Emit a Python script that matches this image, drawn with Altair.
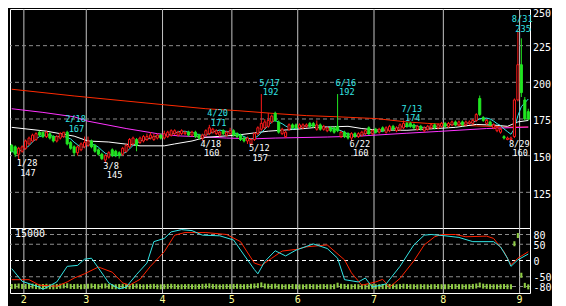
import altair as alt
import pandas as pd

# ---------------- data ----------------
dates = ["1/26","1/27","1/28","1/31",
 "2/1","2/2","2/3","2/4","2/7","2/8","2/9","2/10","2/14","2/15","2/16","2/17","2/18","2/21","2/22","2/24","2/25","2/28",
 "3/1","3/2","3/3","3/4","3/7","3/8","3/9","3/10","3/11","3/14","3/15","3/16","3/17","3/18","3/22","3/23","3/24","3/25","3/28","3/29","3/30","3/31",
 "4/1","4/4","4/5","4/6","4/7","4/8","4/11","4/12","4/13","4/14","4/15","4/18","4/19","4/20","4/21","4/22","4/25","4/26","4/27","4/28",
 "5/2","5/6","5/9","5/10","5/11","5/12","5/13","5/16","5/17","5/18","5/19","5/20","5/23","5/24","5/25","5/26","5/27","5/30","5/31",
 "6/1","6/2","6/3","6/6","6/7","6/8","6/9","6/10","6/13","6/14","6/15","6/16","6/17","6/20","6/21","6/22","6/23","6/24","6/27","6/28","6/29","6/30",
 "7/1","7/4","7/5","7/6","7/7","7/8","7/11","7/12","7/13","7/14","7/15","7/19","7/20","7/21","7/22","7/25","7/26","7/27","7/28","7/29",
 "8/1","8/2","8/3","8/4","8/5","8/8","8/9","8/10","8/12","8/15","8/16","8/17","8/18","8/19","8/22","8/23","8/24","8/25","8/26","8/29","8/30","8/31",
 "9/1","9/2","9/5"]

opens = [157,156,151,153,155,158,160,161,166,166,163,165,163,160,162,163,166,159,156,152,
 154,156,157,160,157,154,151,147,149,154,153,152,151,153,156,158,161,159,160,161,
 162,161,162,164,162,163,164,165,164,165,165,166,164,166,164,162,164,165,166,165,
 164,167,164,165,167,165,164,162,160,158,161,165,168,169,170,173,179,173,165,163,
 168,171,171,169,169,170,172,172,168,171,168,167,169,169,170,163,166,165,162,165,
 163,164,165,169,165,168,166,169,166,167,170,167,168,169,172,172,171,168,170,167,
 168,169,171,169,170,172,170,171,173,171,173,171,172,172,174,189,176,172,173,169,
 167,166,163,161,161,163,188,212,188,180]
highs = [158,157,156,157,161,163,165,166,167,166,167,166,164,164,166,166,167,160,157,157,
 159,163,163,161,158,155,152,151,153,155,154,153,156,158,162,163,162,163,164,165,
 166,165,165,165,167,167,168,168,167,168,167,167,167,167,165,165,168,171,169,168,
 167,168,167,169,168,166,165,163,163,162,166,170,192,175,179,178,180,174,169,167,
 172,172,172,172,172,172,173,173,174,172,171,170,170,170,192,167,167,166,166,166,
 166,167,168,170,168,169,169,170,170,171,171,170,172,174,173,173,172,171,171,170,
 171,172,172,172,173,173,173,174,174,174,174,174,174,175,179,191,177,175,174,172,
 170,169,164,163,163,189,235,230,190,182]
lows = [152,149,147,152,154,157,159,160,163,162,162,161,159,159,161,162,157,154,150,150,
 153,155,156,155,152,150,147,145,148,149,149,148,150,152,155,157,153,158,159,160,
 161,160,161,161,161,162,163,164,163,164,164,163,163,162,161,160,163,164,165,164,
 163,164,163,164,163,162,160,159,158,157,160,164,167,168,169,172,173,165,164,162,
 167,168,168,168,168,169,169,169,167,167,167,166,166,165,166,162,162,161,160,162,
 162,163,164,164,164,165,165,166,165,166,167,166,167,168,169,169,168,167,167,166,
 167,168,168,168,169,169,169,170,170,170,170,170,171,171,173,177,173,171,170,168,
 166,165,161,160.5,160,162,187,190,174,174]
closes = [153,151,155,156,160,162,164,165,164,163,166,162,160,163,165,166,158,155,152,156,
 158,159,160,156,153,151,148,150,152,150,150,150,155,157,161,162,157,162,163,163,
 164,163,164,162,165,166,167,167,166,167,166,164,166,163,162,164,167,169,168,167,
 166,165,166,167,164,163,161,160,162,161,165,169,172,173,174,177,174,166,168,166,
 171,169,169,171,171,171,170,170,171,168,170,169,167,166,167,166,163,162,165,163,
 165,166,167,165,167,166,168,167,169,170,168,169,171,172,170,170,169,170,168,169,
 170,171,169,171,172,170,172,173,171,173,171,173,173,174,178,178,174,174,171,171,
 169,168,162,162,162,188,212,193,175,175]
volumes = [450,520,600,480,420,500,560,430,380,460,520,400,350,470,540,600,650,480,420,500,
 380,440,520,600,480,430,560,620,500,420,380,460,520,480,400,450,560,430,380,420,
 470,500,400,360,420,480,520,450,380,400,430,470,410,380,440,500,560,640,480,420,
 380,400,450,420,480,500,440,400,460,520,600,700,950,600,520,480,560,430,400,380,
 420,450,400,380,360,420,450,400,380,420,440,400,380,420,850,520,460,400,380,420,
 400,380,360,400,420,380,400,440,420,460,480,400,440,520,460,420,400,380,420,400,
 380,400,420,440,400,380,420,440,460,420,400,380,420,480,600,900,560,480,420,400,
 380,420,460,400,380,13500,16000,3900,800,350]

# moving averages (day index, price)
ma_w_idx = [0,10,18,22,28,37,44,47,52,56,65,74,82,88,97,101,105,114,128,134,140,143,146,149]
ma_w_val = [169.3,166.7,163.3,160,159.3,156.7,156.7,158,160,162.5,164,166.7,168,169.3,170,168.5,167.5,167.3,169.3,171.3,170.7,170,173,174]
ma_m_idx = [0,9,18,22,33,42,48,56,62,70,76,91,100,114,123,137,149]
ma_m_val = [182,179.5,176.5,173.5,168.5,165,163.5,162.7,162,161.5,162,162.7,163.3,165.3,166.5,168.5,169.5]
ma_r_idx = [0,18,44,56,65,76,85,94,105,114,120,134,143,149]
ma_r_val = [195.3,190.7,184.7,182,180.7,178.7,177.3,176.5,175.3,173,172,170.3,169.5,169.5]

# oscillators (lower panel)
osc_c_idx = [0,3,8,9,13,16,19,21,23,25,28,31,33,36,39,41,44,46,49,52,55,60,64,67,70,71,73,76,79,82,87,91,94,96,100,102,104,108,112,116,119,121,125,129,133,139,141,143,144,146,149]
osc_c_val = [-25,-64,-82,-89,-66,-18,-15,4,7,-23,-69,-87,-82,-43,-8,58,68,88,95,92,78,76,63,17,-28,-41,-3,30,14,32,51,37,7,-59,-66,-54,-82,-72,-18,48,78,80,76,71,58,58,42,7,-18,2,20]
osc_r_idx = [0,5,8,13,16,18,21,25,29,32,34,37,40,44,47,50,56,62,66,70,72,75,78,82,85,91,96,98,101,105,107,109,112,116,119,122,124,128,131,137,139,142,144,146,149]
osc_r_val = [-59,-59,-76,-79,-66,-54,-41,-20,-36,-69,-76,-58,-18,27,78,86,86,80,58,-8,-15,7,29,34,42,48,2,-38,-76,-66,-58,-82,-55,-1,48,73,80,80,73,75,68,27,-13,7,27]

# annotations (day index of marked highs / lows)
hi_idx = [16,57,72,94,113]
hi_last_idx = [146]
lo_idx = [2,27,55,69,98,144]

month_idx = [4,22,44,64,83,105,125,147]
month_lbl = ["2","3","4","5","6","7","8","9"]

top_ticks = [125,150,175,200,225]
top_max = [250]
top_grid = [125,150,175,200,225]
bot_ticks = [80,50,0,-50,-80]
bot_grid = [80,50,-50,-80]

# ---------------- styles ----------------
W, HT, HB = 520, 219, 65
RED, GREEN, CYAN, MAG = "#ff1a1a", "#22e622", "#33e6e6", "#ff33ff"
MARED = "#ff2a00"
VOLC = "#8fcc44"
FONT = "DejaVu Sans Mono"

xs = alt.Scale(domain=[0, 150], nice=False, zero=False)
yts = alt.Scale(domain=[100.67, 250], nice=False, zero=False)
ybs = alt.Scale(domain=[-100, 100], nice=False, zero=False)
yvs = alt.Scale(domain=[0, 16780], nice=False, zero=False)

def X(f):
    return alt.X(f, type="quantitative", scale=xs, axis=None)

def YT(f):
    return alt.Y(f, type="quantitative", scale=yts, axis=None)

df = pd.DataFrame({"idx": list(range(len(dates))), "d": dates, "o": opens, "h": highs,
                   "l": lows, "c": closes, "v": volumes})
base = alt.Chart(df).transform_calculate(
    xc="datum.idx + 0.5", xl="datum.idx + 0.2", xr="datum.idx + 0.8")

months = pd.DataFrame({"mi": month_idx, "ml": month_lbl})
vrules = alt.Chart(months).mark_rule(color="#c4c4c4", strokeWidth=1).encode(x=X("mi"))

def ma_line(idx, val, color):
    return alt.Chart(pd.DataFrame({"i": idx, "v": val})).transform_calculate(
        xc="datum.i + 0.5").mark_line(color=color, strokeWidth=1).encode(x=X("xc"), y=YT("v"))

hgrid_t = alt.Chart(pd.DataFrame({"g": top_grid})).mark_rule(
    color="#8c8c8c", strokeDash=[4, 3], strokeWidth=1).encode(y=YT("g"))

ylab_t = alt.Chart(pd.DataFrame({"g": top_ticks})).mark_text(
    font=FONT, fontSize=10, color="#ffffff", align="left", baseline="middle", dy=2.5
).encode(x=alt.value(W + 3), y=YT("g"), text=alt.Text("g:Q", format="d"))
ylab_t2 = alt.Chart(pd.DataFrame({"g": top_max})).mark_text(
    font=FONT, fontSize=10, color="#ffffff", align="left", baseline="top", dy=0
).encode(x=alt.value(W + 3), y=YT("g"), text=alt.Text("g:Q", format="d"))

cyan_ma = base.transform_window(ma5="mean(c)", frame=[-4, 0], sort=[{"field": "idx"}]).mark_line(
    color=CYAN, strokeWidth=1).encode(x=X("xc"), y=YT("ma5"))

up = "datum.c >= datum.o"
wicks = base.mark_rule(strokeWidth=1).encode(
    x=X("xc"), y=YT("l"), y2="h",
    color=alt.condition(up, alt.value(RED), alt.value(GREEN)))
bodies = base.mark_bar(strokeWidth=1).encode(
    x=X("xl"), x2="xr", y=YT("o"), y2="c",
    fill=alt.condition(up, alt.value("#000000"), alt.value(GREEN)),
    stroke=alt.condition(up, alt.value(RED), alt.value(GREEN)))

def mkdf(ids, src):
    return pd.DataFrame({"i": ids, "p": [src[i] for i in ids], "d": [dates[i] for i in ids]})

hi_df = mkdf(hi_idx, highs)
hi_last_df = mkdf(hi_last_idx, highs)
lo_df = mkdf(lo_idx, lows)

def ann(dfa, field, color, dy, dx):
    return alt.Chart(dfa).transform_calculate(xc="datum.i + 0.5", ps="'' + datum.p").mark_text(
        font=FONT, fontSize=8.6, color=color, align="left", baseline="alphabetic", dy=dy, dx=dx
    ).encode(x=X("xc"), y=YT("p"), text=alt.Text(field + ":N"))

top = alt.layer(
    vrules, hgrid_t,
    ma_line(ma_r_idx, ma_r_val, MARED),
    ma_line(ma_m_idx, ma_m_val, MAG),
    ma_line(ma_w_idx, ma_w_val, "#ffffff"),
    cyan_ma, wicks, bodies,
    ann(hi_df, "d", CYAN, -8.5, -2), ann(hi_df, "ps", CYAN, 1, 1.5),
    ann(hi_last_df, "d", CYAN, -8.5, -6), ann(hi_last_df, "ps", CYAN, 1, -2.5),
    ann(lo_df, "d", "#ffffff", 6, -2), ann(lo_df, "ps", "#ffffff", 15.5, 1.5),
    ylab_t, ylab_t2,
).properties(width=W, height=HT)

# ---------------- lower panel ----------------
def YB(f, axis=None):
    return alt.Y(f, type="quantitative", scale=ybs, axis=axis)

hgrid_b = alt.Chart(pd.DataFrame({"g": bot_grid})).mark_rule(
    color="#8c8c8c", strokeDash=[4, 3], strokeWidth=1).encode(
    y=YB("g", axis=alt.Axis(orient="right", values=bot_ticks, labelOffset=1,
                            labelBaseline="middle", title=None, labelOverlap=False,
                            labelExpr="datum.value < 0 ? '-' + abs(datum.value) : '' + datum.value")))
zero_b = alt.Chart(pd.DataFrame({"g": [0]})).mark_rule(
    color="#ffffff", strokeDash=[4, 3], strokeWidth=1.2).encode(y=YB("g"))

vol = base.mark_bar(color=VOLC).encode(
    x=X("xl"), x2="xr",
    y=alt.Y("v:Q", scale=yvs, axis=None))

def osc_line(idx, val, color):
    return alt.Chart(pd.DataFrame({"i": idx, "v": val})).transform_calculate(
        xc="datum.i + 0.5").mark_line(color=color, strokeWidth=1).encode(x=X("xc"), y=YB("v"))

vol_lbl = alt.Chart(pd.DataFrame({"t": ["15000"]})).mark_text(
    font=FONT, fontSize=10, color="#ffffff", align="left", baseline="middle").encode(
    x=alt.value(5), y=alt.value(6), text="t:N")

month_txt = alt.Chart(months).mark_text(
    font=FONT, fontSize=10, color="#ffff99", align="center", baseline="middle").encode(
    x=X("mi"), y=alt.value(HB + 7), text="ml:N")

bottom = alt.layer(
    vrules, hgrid_b, zero_b, vol,
    osc_line(osc_r_idx, osc_r_val, "#ff2200"),
    osc_line(osc_c_idx, osc_c_val, CYAN),
    vol_lbl, month_txt,
).resolve_scale(y="independent").properties(width=W, height=HB)

chart = alt.vconcat(top, bottom, spacing=0, bounds="flush").properties(
    padding={"left": 0, "top": 0, "right": 0, "bottom": 0},
).configure(background="#000000").configure_view(
    stroke="#ffffff", strokeWidth=1
).configure_axis(
    labelFont=FONT, labelFontSize=10, labelColor="#ffffff", ticks=False,
    domain=False, grid=False, labelPadding=3
)

chart.save("out.html", embed_options={"renderer": "svg", "actions": False})
